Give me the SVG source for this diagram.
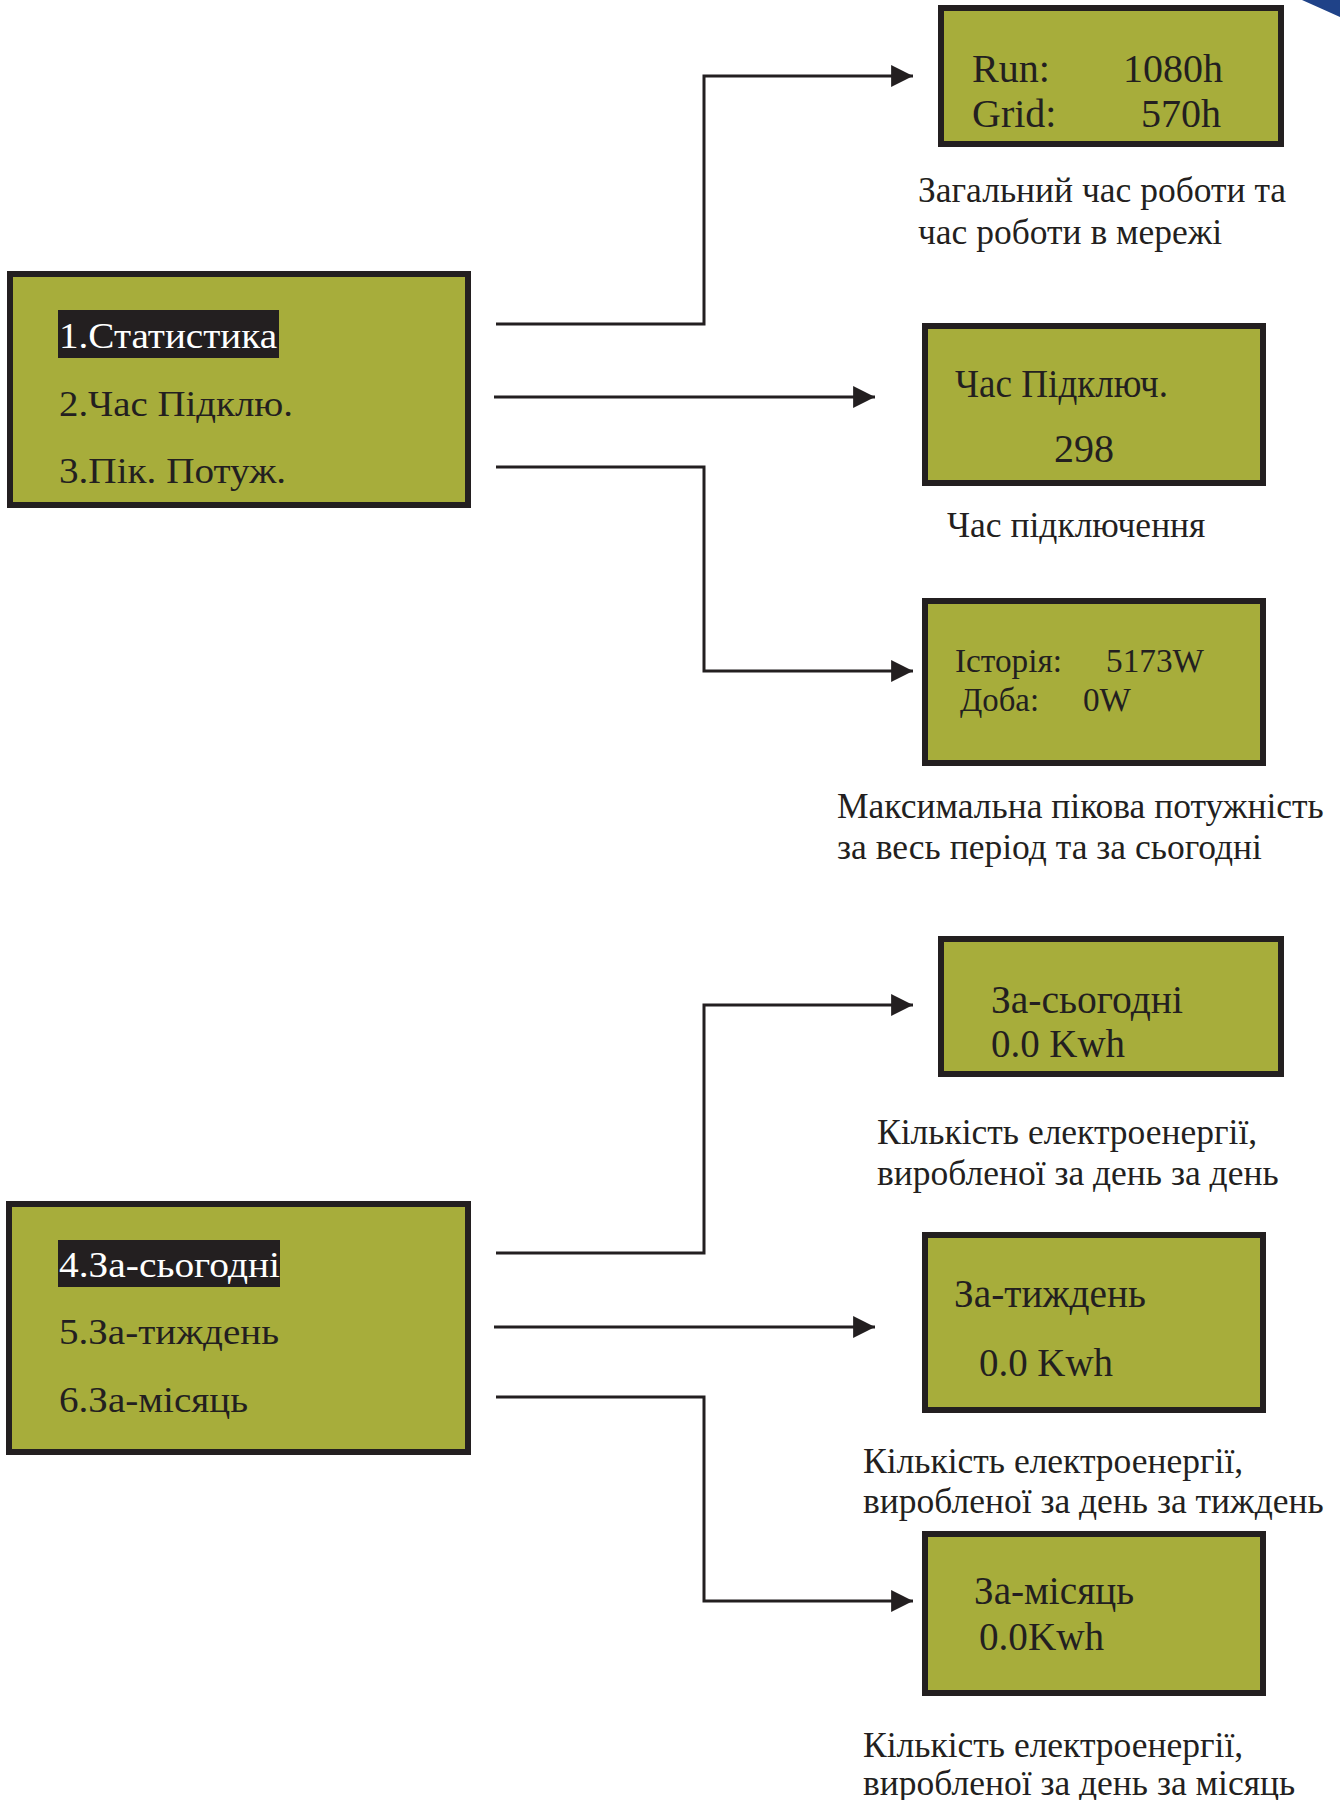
<svg xmlns="http://www.w3.org/2000/svg" width="1340" height="1800" viewBox="0 0 1340 1800">
<defs>
<style>
.box{fill:#a7ad3b;stroke:#231f20;stroke-width:6}
.t{font-family:"Liberation Serif","Times New Roman",serif;fill:#231f20}
.m{font-size:36px}
.hl{fill:#231f20}
.w{fill:#ffffff}
.s{font-size:40px}
.p{font-size:34px}
.c{font-size:35.5px}
.ln{fill:none;stroke:#231f20;stroke-width:3}
</style>
<marker id="ah" viewBox="0 0 10 10" refX="10" refY="5" markerWidth="7.3" markerHeight="7.3" markerUnits="strokeWidth" orient="auto">
<path d="M0,0 L10,5 L0,10 Z" fill="#231f20"/>
</marker>
</defs>
<rect width="1340" height="1800" fill="#ffffff"/>
<path d="M1302,0 L1340,0 L1340,17 Q1320,8 1302,0 Z" fill="#1f4288"/>

<g id="connectors">
<polyline class="ln" points="496,324 704,324 704,76 913,76" marker-end="url(#ah)"/>
<polyline class="ln" points="494,397 875,397" marker-end="url(#ah)"/>
<polyline class="ln" points="496,467 704,467 704,671 913,671" marker-end="url(#ah)"/>
<polyline class="ln" points="496,1253 704,1253 704,1005 913,1005" marker-end="url(#ah)"/>
<polyline class="ln" points="494,1327 875,1327" marker-end="url(#ah)"/>
<polyline class="ln" points="496,1397 704,1397 704,1601 913,1601" marker-end="url(#ah)"/>
</g>

<g id="menu1">
<rect class="box" x="10" y="274" width="458" height="231"/>
<rect class="hl" x="58" y="310" width="221" height="48"/>
<text class="t m w" x="59" y="348" textLength="218" lengthAdjust="spacingAndGlyphs">1.Статистика</text>
<text class="t m" x="59" y="416" textLength="234" lengthAdjust="spacingAndGlyphs">2.Час Підклю.</text>
<text class="t m" x="59" y="483" textLength="227" lengthAdjust="spacingAndGlyphs">3.Пік. Потуж.</text>
</g>

<g id="run-grid">
<rect class="box" x="941" y="8" width="340" height="136"/>
<text class="t s" x="972" y="82">Run:</text>
<text class="t s" x="1223" y="82" text-anchor="end">1080h</text>
<text class="t s" x="972" y="127">Grid:</text>
<text class="t s" x="1221" y="127" text-anchor="end">570h</text>
<text class="t c" x="918" y="202">Загальний час роботи та</text>
<text class="t c" x="918" y="244">час роботи в мережі</text>
</g>

<g id="conn-time">
<rect class="box" x="925" y="326" width="338" height="157"/>
<text class="t s" x="955" y="397" textLength="213" lengthAdjust="spacingAndGlyphs">Час Підключ.</text>
<text class="t s" x="1054" y="462">298</text>
<text class="t c" x="947" y="537">Час підключення</text>
</g>

<g id="peak-power">
<rect class="box" x="925" y="601" width="338" height="162"/>
<text class="t p" x="955" y="672" textLength="107" lengthAdjust="spacingAndGlyphs">Історія:</text>
<text class="t p" x="1106" y="672" textLength="98" lengthAdjust="spacingAndGlyphs">5173W</text>
<text class="t p" x="960" y="711" textLength="79" lengthAdjust="spacingAndGlyphs">Доба:</text>
<text class="t p" x="1083" y="711" textLength="48" lengthAdjust="spacingAndGlyphs">0W</text>
<text class="t c" x="837" y="818">Максимальна пікова потужність</text>
<text class="t c" x="837" y="859">за весь період та за сьогодні</text>
</g>

<g id="menu2">
<rect class="box" x="9" y="1204" width="459" height="248"/>
<rect class="hl" x="58" y="1240" width="222" height="47"/>
<text class="t m w" x="59" y="1277" textLength="221" lengthAdjust="spacingAndGlyphs">4.За-сьогодні</text>
<text class="t m" x="59" y="1344" textLength="220" lengthAdjust="spacingAndGlyphs">5.За-тиждень</text>
<text class="t m" x="59" y="1412" textLength="189" lengthAdjust="spacingAndGlyphs">6.За-місяць</text>
</g>

<g id="today">
<rect class="box" x="941" y="939" width="340" height="135"/>
<text class="t s" x="991" y="1013" textLength="192" lengthAdjust="spacingAndGlyphs">За-сьогодні</text>
<text class="t s" x="991" y="1057" textLength="134" lengthAdjust="spacingAndGlyphs">0.0 Kwh</text>
<text class="t c" x="877" y="1144">Кількість електроенергії,</text>
<text class="t c" x="877" y="1185">виробленої за день за день</text>
</g>

<g id="week">
<rect class="box" x="925" y="1235" width="338" height="175"/>
<text class="t s" x="954" y="1307" textLength="192" lengthAdjust="spacingAndGlyphs">За-тиждень</text>
<text class="t s" x="979" y="1376" textLength="134" lengthAdjust="spacingAndGlyphs">0.0 Kwh</text>
<text class="t c" x="863" y="1473">Кількість електроенергії,</text>
<text class="t c" x="863" y="1513">виробленої за день за тиждень</text>
</g>

<g id="month">
<rect class="box" x="925" y="1534" width="338" height="159"/>
<text class="t s" x="974" y="1604" textLength="160" lengthAdjust="spacingAndGlyphs">За-місяць</text>
<text class="t s" x="979" y="1650" textLength="125" lengthAdjust="spacingAndGlyphs">0.0Kwh</text>
<text class="t c" x="863" y="1757">Кількість електроенергії,</text>
<text class="t c" x="863" y="1795">виробленої за день за місяць</text>
</g>
</svg>
